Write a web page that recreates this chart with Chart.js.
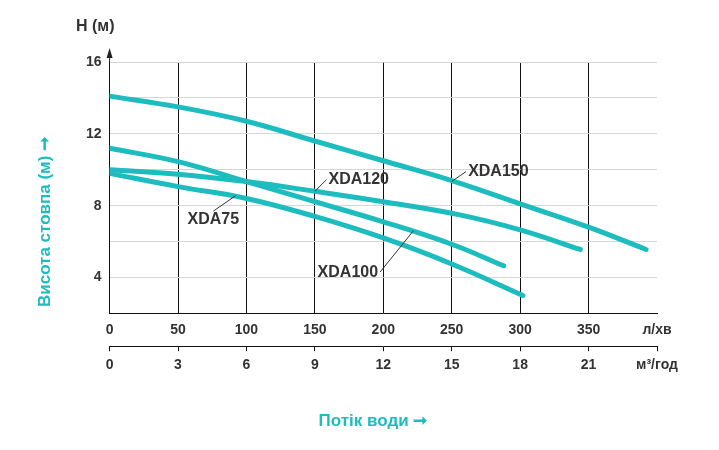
<!DOCTYPE html>
<html>
<head>
<meta charset="utf-8">
<script src="https://cdn.jsdelivr.net/npm/chart.js@4"></script>
<style>
  html, body { margin: 0; padding: 0; background: #fff; }
  #wrap { width: 719px; height: 450px; }
</style>
</head>
<body>
<div id="wrap"><canvas id="c"></canvas></div>
<script>
// Дані кривих (л/хв, м)
const xda150 = [[0, 14.1], [50, 13.5], [100, 12.7], [150, 11.6], [200, 10.5], [250, 9.4], [300, 8.1], [350, 6.8], [392, 5.56]];
const xda120 = [[0, 10.0], [50, 9.75], [100, 9.34], [150, 8.8], [200, 8.22], [255, 7.5], [300, 6.65], [344, 5.56]];
const xda100 = [[0, 11.2], [50, 10.45], [100, 9.34], [150, 8.22], [200, 7.1], [250, 5.85], [288, 4.65]];
const xda75 = [[0, 9.8], [50, 9.06], [100, 8.4], [150, 7.4], [200, 6.2], [250, 4.75], [302, 3.0]];
const flowTicks = [0, 50, 100, 150, 200, 250, 300, 350];
const m3Ticks = [0, 3, 6, 9, 12, 15, 18, 21];
const headTicks = [4, 8, 12, 16];

// Підписи кривих: [текст, x тексту, y тексту, x точки, y точки]
const curveLabels = [
  ["XDA150", 262, 9.9, 250, 9.35],
  ["XDA120", 160, 9.45, 150, 8.8],
  ["XDA75", 57, 7.25, 92, 8.55],
  ["XDA100", 152, 4.3, 222, 6.6],
];

const teal = "#1dbcbf";
const txt = "#333333";
const font = "Liberation Sans, Arial, sans-serif";

const toXY = (arr) => arr.map(([x, y]) => ({ x, y }));
const line = (label, data) => ({
  label, data: toXY(data), borderColor: teal, borderWidth: 5,
  pointRadius: 0, tension: 0.4, fill: false, borderCapStyle: "round",
});

const overlay = {
  id: "overlay",
  afterDraw(chart) {
    const { ctx, chartArea: a } = chart;
    const x = chart.scales.x, y = chart.scales.y;
    ctx.save();
    ctx.fillStyle = txt;
    ctx.font = `bold 16px ${font}`;
    ctx.textBaseline = "middle";
    curveLabels.forEach(([t, tx, ty, px, py]) => {
      const X = x.getPixelForValue(tx), Y = y.getPixelForValue(ty);
      ctx.textAlign = "left";
      ctx.fillText(t, X, Y);
      const w = ctx.measureText(t).width;
      const P = x.getPixelForValue(px), Q = y.getPixelForValue(py);
      ctx.strokeStyle = txt; ctx.lineWidth = 1;
      ctx.beginPath();
      const sx = P > X + w ? X + w + 2 : (P < X ? X - 2 : X + w / 2);
      const sy = P > X + w || P < X ? Y : (Q > Y ? Y + 8 : Y - 8);
      ctx.moveTo(sx, sy); ctx.lineTo(P, Q); ctx.stroke();
    });
    // стрілка осі Y
    ctx.fillStyle = "#222";
    ctx.beginPath();
    ctx.moveTo(a.left, a.top - 14); ctx.lineTo(a.left - 3, a.top - 4); ctx.lineTo(a.left + 3, a.top - 4);
    ctx.fill();
    ctx.strokeStyle = "#222"; ctx.lineWidth = 1;
    ctx.beginPath(); ctx.moveTo(a.left, a.top - 6); ctx.lineTo(a.left, a.top); ctx.stroke();
    ctx.font = `bold 16px ${font}`;
    ctx.fillStyle = txt; ctx.textAlign = "left";
    ctx.fillText("H (м)", 76, 27);
    // заголовки осей
    ctx.fillStyle = teal;
    ctx.font = `bold 17px ${font}`;
    ctx.textAlign = "center";
    ctx.fillText("Потік води ➞", 373, 421);
    ctx.translate(45, 222);
    ctx.rotate(-Math.PI / 2);
    ctx.fillText("Висота стовпа (м) ➞", 0, 0);
    ctx.restore();
  },
};

new Chart(document.getElementById("c"), {
  type: "line",
  data: { datasets: [line("XDA150", xda150), line("XDA120", xda120), line("XDA100", xda100), line("XDA75", xda75)] },
  options: {
    responsive: true, maintainAspectRatio: false, animation: false,
    layout: { padding: { left: 78, right: 62, top: 62, bottom: 70 } },
    plugins: { legend: { display: false }, tooltip: { enabled: false } },
    scales: {
      x: {
        type: "linear", min: 0, max: 400, position: "bottom",
        afterBuildTicks: (s) => { s.ticks = flowTicks.concat([400]).map((v) => ({ value: v })); },
        ticks: { color: txt, font: { family: font, size: 14, weight: "bold" }, padding: 8,
          callback: (v) => (v === 400 ? "л/хв" : v) },
        grid: { color: (c) => (c.tick && c.tick.value === 400 ? "rgba(0,0,0,0)" : "#111"), lineWidth: 1, drawTicks: false },
        border: { color: "#111", width: 1 },
      },
      x2: {
        type: "linear", min: 0, max: 24, position: "bottom",
        afterBuildTicks: (s) => { s.ticks = m3Ticks.concat([24]).map((v) => ({ value: v })); },
        ticks: { color: txt, font: { family: font, size: 14, weight: "bold" }, padding: 6,
          callback: (v) => (v === 24 ? "м³/год" : v) },
        grid: { display: true, drawOnChartArea: false, color: "#111", tickLength: 5 },
        border: { color: "#111", width: 1 },
      },
      y: {
        type: "linear", min: 2, max: 16,
        ticks: { stepSize: 2, color: txt, font: { family: font, size: 14, weight: "bold" }, padding: 8,
          callback: (v) => (headTicks.includes(v) ? v : "") },
        grid: { color: "#d6d6d6", drawTicks: false },
        border: { color: "#111", width: 1 },
      },
    },
  },
  plugins: [overlay],
});
</script>
</body>
</html>
